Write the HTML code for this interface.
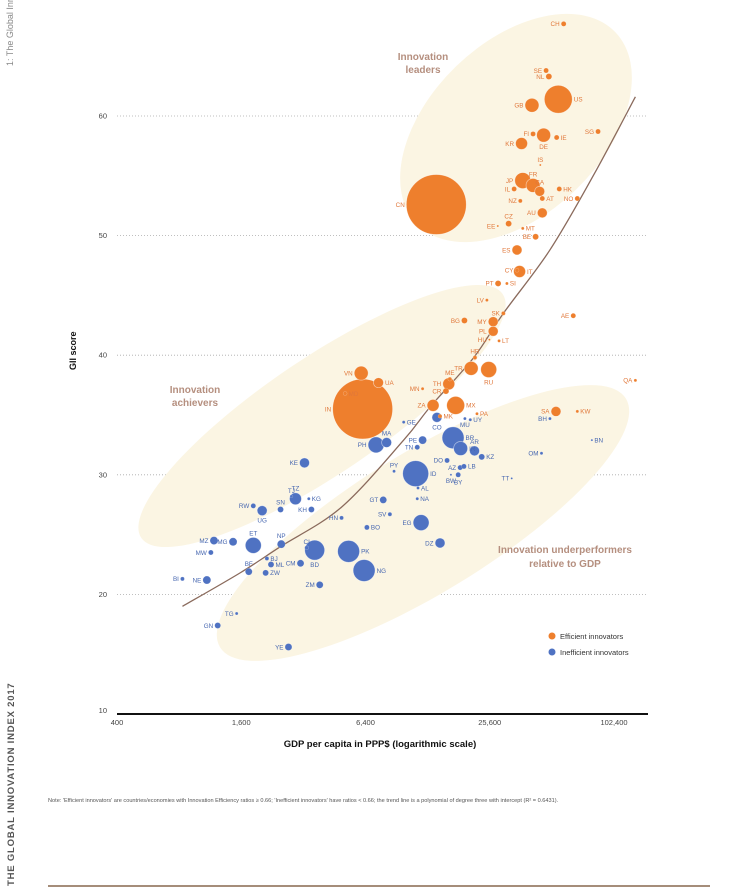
<!DOCTYPE html>
<html><head><meta charset="utf-8">
<style>
html,body{margin:0;padding:0;background:#fff;}
body{width:739px;height:890px;overflow:hidden;position:relative;font-family:"Liberation Sans Narrow","Liberation Sans",sans-serif;}
svg{position:absolute;left:0;top:0;}
</style></head>
<body>
<svg id="chart" width="739" height="890" viewBox="0 0 739 890" xmlns="http://www.w3.org/2000/svg">
  <text transform="translate(13,66) rotate(-90)" font-size="9" fill="#888" font-family="Liberation Sans Narrow, Liberation Sans, sans-serif">1: The Global Inn</text>
  <text transform="translate(14,886) rotate(-90)" font-size="9.5" font-weight="bold" fill="#555" letter-spacing="0.8" font-family="Liberation Sans, sans-serif">THE GLOBAL INNOVATION INDEX 2017</text>
  <line x1="48" y1="886" x2="710" y2="886" stroke="#a58d7a" stroke-width="2"/>
  <g id="grid"></g>
  <g id="ellipses"></g>
  <g id="trend"></g>
  <g id="bubbles"></g>
  <g id="labels"></g>
  <text x="423" y="60" text-anchor="middle" font-size="10" font-weight="bold" fill="#b58f7f">Innovation</text>
  <text x="423" y="73" text-anchor="middle" font-size="10" font-weight="bold" fill="#b58f7f">leaders</text>
  <text x="195" y="393" text-anchor="middle" font-size="10" font-weight="bold" fill="#b58f7f">Innovation</text>
  <text x="195" y="406" text-anchor="middle" font-size="10" font-weight="bold" fill="#b58f7f">achievers</text>
  <text x="565" y="553" text-anchor="middle" font-size="10" font-weight="bold" fill="#b58f7f">Innovation underperformers</text>
  <text x="565" y="567" text-anchor="middle" font-size="10" font-weight="bold" fill="#b58f7f">relative to GDP</text>
  <g>
    <circle cx="552" cy="636" r="3.5" fill="#ee7f2d"/>
    <text x="560" y="639" font-size="7.5" fill="#333">Efficient innovators</text>
    <circle cx="552" cy="652" r="3.5" fill="#4f72c2"/>
    <text x="560" y="655" font-size="7.5" fill="#333">Inefficient innovators</text>
  </g>
  <line x1="117" y1="714" x2="648" y2="714" stroke="#111" stroke-width="2"/>
  <g id="ticks"></g>
  <text transform="translate(76,370) rotate(-90)" font-size="9" font-weight="bold" fill="#111">GII score</text>
  <text x="380" y="747" text-anchor="middle" font-size="9.5" font-weight="bold" fill="#111">GDP per capita in PPP$ (logarithmic scale)</text>
  <text x="48" y="802" font-size="5.6" fill="#555">Note: 'Efficient innovators' are countries/economies with Innovation Efficiency ratios ≥ 0.66; 'Inefficient innovators' have ratios &lt; 0.66; the trend line is a polynomial of degree three with intercept (R² = 0.6431).</text>
</svg>
<script>
const codes = ["CH","SE","NL","US","GB","FI","DE","IE","SG","KR","IS","JP","FR","IL","CA","AT","HK","NO","NZ","CN","AU","CZ","EE","MT","BE","ES","CY","IT","PT","SI","LV","SK","BG","MY","PL","HU","LT","HR","TR","RU","ME","TH","CR","MN","VN","UA","IN","MD","ZA","MX","PA","SA","KW","AE","QA","MK",
"GE","CO","MU","UY","BR","IR","PE","TN","PH","MA","AR","KZ","OM","BH","BN","DO","AZ","LB","BW","BY","TT","ID","PY","KE","AL","NA","GT","SV","EG","BO","HN","DZ","TJ","TZ","KG","KH","SN","RW","UG","MZ","MW","MG","ET","NP","BD","CI","PK","NG","BJ","ML","ZW","BF","CM","ZM","BI","NE","TG","GN","YE"];
const gdpValues = [58400,48000,49500,55000,41000,41500,46700,54000,85700,36500,45000,37000,41500,33600,44700,46000,55600,68000,36000,14100,46000,31600,28000,37000,42700,34700,34700,35700,28100,31000,24800,29800,19300,26600,26600,25500,28400,21700,20800,25300,16400,16200,15700,12100,6100,7400,6200,5100,13600,17500,22200,53600,68000,65000,130000,14700,
9800,14200,19400,20600,17000,18500,12100,11400,7200,8100,21600,23400,45600,50100,80000,15900,18400,19200,16600,18000,32700,11200,8800,3240,11500,11400,7800,8400,11900,6500,4900,14700,2800,2930,3400,3500,2480,1830,2020,1180,1140,1460,1830,2500,3630,3320,5300,6300,2130,2230,2100,1740,3100,3840,830,1090,1520,1230,2710];
const giiScores = [67.7,63.8,63.3,61.4,60.9,58.5,58.4,58.2,58.7,57.7,55.9,54.6,54.2,53.9,53.7,53.1,53.9,53.1,52.9,52.6,51.9,51.0,50.8,50.6,49.9,48.8,47.1,47.0,46.0,46.0,44.6,43.5,42.9,42.8,42.0,41.3,41.2,39.8,38.9,38.8,38.0,37.6,37.0,37.2,38.5,37.7,35.5,36.8,35.8,35.8,35.1,35.3,35.3,43.3,37.9,34.9,
34.4,34.8,34.7,34.6,33.1,32.2,32.9,32.3,32.5,32.7,32.0,31.5,31.8,34.7,32.9,31.2,30.6,30.7,30.0,30.0,29.7,30.1,30.3,31.0,28.9,28.0,27.9,26.7,26.0,25.6,26.4,24.3,28.2,28.0,28.0,27.1,27.1,27.4,27.0,24.5,23.5,24.4,24.1,24.2,23.7,23.9,23.6,22.0,23.0,22.5,21.8,21.9,22.6,20.8,21.3,21.2,18.4,17.4,15.6];
const bubbleSize = [2.5,2.5,3,14,7,2.5,7,2.5,2.5,6,1,8,7,2.5,5,2.5,2.5,2.5,2,30,5,3,1,1.5,3,5,2,6,3,1.5,1.5,2,3,5,5,1,1.5,2,7,8,2,6,3,1.5,7,5,30,2,6,9,1.5,5,1.5,2.5,1.5,2,
1.5,5,1.5,1.5,11,7,4,2.5,8,5,5,3,1.5,1.5,1,2.5,2.5,2.5,1,2.5,1,13,1.5,5,1.5,1.5,3.5,2,8,2.5,2,5,1.5,6,1.5,3,3,2.5,5,4,2.5,4,8,4,10,2,11,11,2,3,3,3.5,3.5,3.5,2,4,1.5,3,3.5];
const efficient = codes.map((c,i)=> i < 56 ? 1 : 0);
const labelSide = ["l","l","l","r","l","l","b","r","l","l","t","l","t","l","t","r","r","l","l","l","l","t","l","r","l","l","l","r","l","r","l","l","l","l","l","l","r","t","l","b","t","l","l","l","l","r","l","r","l","r","r","l","r","l","l","r",
"r","b","b","r","r","r","l","l","l","t","t","r","l","l","r","l","l","r","b","b","l","r","t","l","r","r","l","l","l","r","l","l","t","t","r","l","t","l","b","l","l","l","t","t","b","t","r","r","r","r","r","t","l","l","l","l","l","l","l"];
const trendGdp = [830,1580,2480,4900,9800,13200,21400,29800,50100,81800,130000];
const trendGii = [19.0,21.8,24.0,27.3,32.9,35.7,39.8,43.5,48.8,55.1,61.6];
const yTicks = [10,20,30,40,50,60];
const xTicks = [400,1600,6400,25600,102400];
const xTickLabels = ["400","1,600","6,400","25,600","102,400"];

const NS = "http://www.w3.org/2000/svg";
const xs = g => 117 + Math.log(g/400)/Math.log(4)*124.25;
const ys = v => 116 + (60 - v)*11.96;
function mk(tag, attrs, parent){const e=document.createElementNS(NS,tag);for(const k in attrs)e.setAttribute(k,attrs[k]);parent.appendChild(e);return e;}

const grid=document.getElementById('grid'), ticks=document.getElementById('ticks');
yTicks.forEach(t=>{
  if(t>10){
    const l=mk('line',{x1:117,x2:648,y1:ys(t),y2:ys(t),stroke:'#aaa','stroke-width':0.8,'stroke-dasharray':'1 2'},grid);
    
    
  }
  const tx=mk('text',{x:107,y:ys(t)+(t===10?-1:2.5),'text-anchor':'end','font-size':7.5,fill:'#444'},ticks);
  tx.textContent=t;
  
  
});
xTicks.forEach((t,i)=>{
  const tx=mk('text',{x:xs(t),y:725,'text-anchor':'middle','font-size':7.5,fill:'#444'},ticks);
  tx.textContent=xTickLabels[i];
  
  
});

const ell=document.getElementById('ellipses');
[[516,128,138,86,-44,'leaders'],[322,416,218,58,-34,'achievers'],[423,523,238,70,-31.5,'underperformers']].forEach(e=>{
  const el=mk('ellipse',{cx:e[0],cy:e[1],rx:e[2],ry:e[3],transform:`rotate(${e[4]} ${e[0]} ${e[1]})`,fill:'#fbf5e3'},ell);
  
  
});

const tr=document.getElementById('trend');
let pts=trendGdp.map((g,i)=>[xs(g),ys(trendGii[i])]);
let d='M'+pts[0][0]+','+pts[0][1];
for(let i=0;i<pts.length-1;i++){
  const p0=pts[Math.max(i-1,0)],p1=pts[i],p2=pts[i+1],p3=pts[Math.min(i+2,pts.length-1)];
  const c1=[p1[0]+(p2[0]-p0[0])/6,p1[1]+(p2[1]-p0[1])/6],c2=[p2[0]-(p3[0]-p1[0])/6,p2[1]-(p3[1]-p1[1])/6];
  d+=` C${c1[0]},${c1[1]} ${c2[0]},${c2[1]} ${p2[0]},${p2[1]}`;
}
const tp=mk('path',{d:d,fill:'none',stroke:'#8a6a5c','stroke-width':1.3},tr);



const bub=document.getElementById('bubbles'), lab=document.getElementById('labels');
const order=codes.map((c,i)=>i).sort((a,b)=>bubbleSize[b]-bubbleSize[a]);
order.forEach(i=>{
  const cx=xs(gdpValues[i]), cy=ys(giiScores[i]), r=bubbleSize[i];
  const col=efficient[i]?'#ee7f2d':'#4f72c2';
  const c=mk('circle',{cx:cx,cy:cy,r:r,fill:col,stroke:'rgba(255,255,255,0.55)','stroke-width':r>4?0.7:0.3},bub);
  
  
});
codes.forEach((code,i)=>{
  const cx=xs(gdpValues[i]), cy=ys(giiScores[i]), r=bubbleSize[i], s=labelSide[i];
  let x=cx,y=cy+2.3,a='middle';
  if(s==='l'){x=cx-r-1.5;a='end';}
  else if(s==='r'){x=cx+r+1.5;a='start';}
  else if(s==='t'){y=cy-r-2;}
  else if(s==='b'){y=cy+r+7;}
  const t=mk('text',{x:x,y:y,'text-anchor':a,'font-size':6.3,fill:efficient[i]?'#e0773a':'#4767b0'},lab);
  t.textContent=code;
  
  
});
</script>
</body></html>
